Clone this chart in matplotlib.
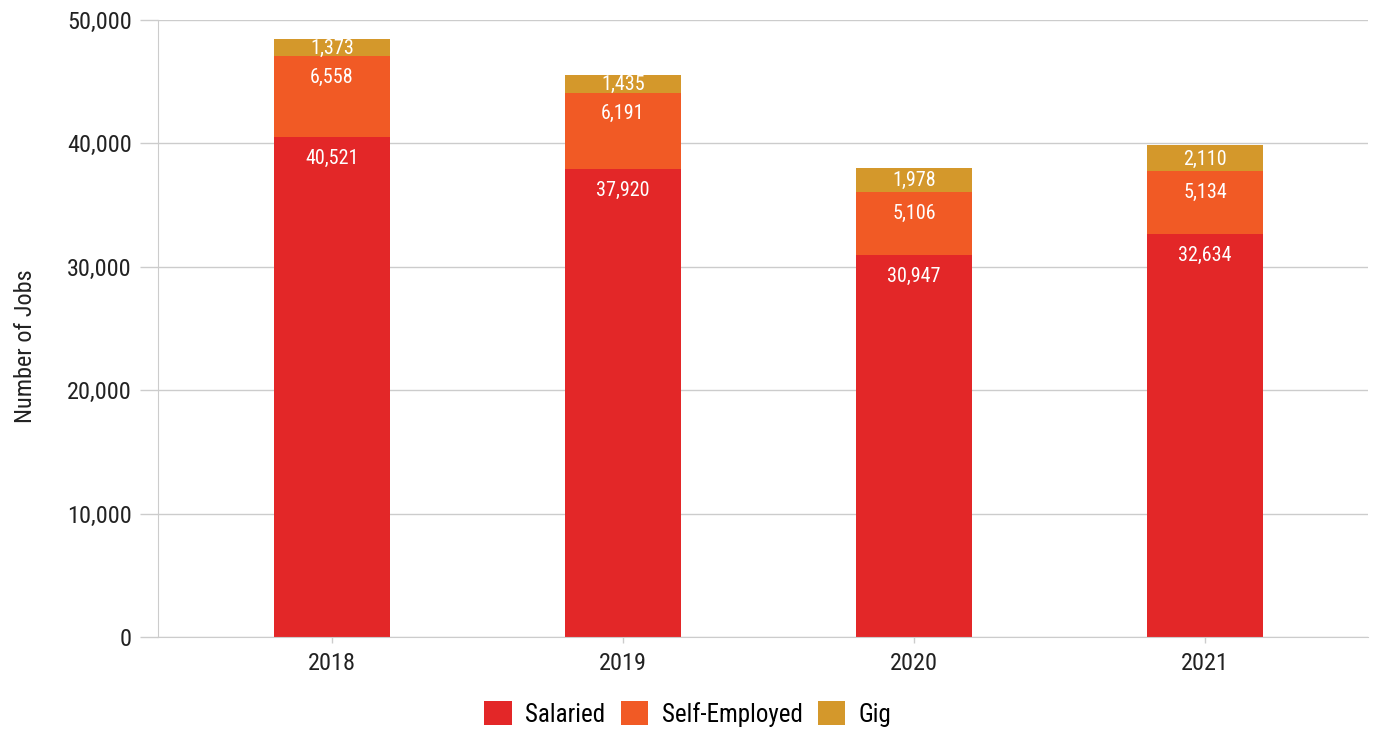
import matplotlib
matplotlib.use("Agg")
import matplotlib.pyplot as plt
import matplotlib.ticker as ticker
from matplotlib import font_manager

years = ["2018", "2019", "2020", "2021"]
salaried = [40521, 37920, 30947, 32634]
self_employed = [6558, 6191, 5106, 5134]
gig = [1373, 1435, 1978, 2110]

names = {f.name for f in font_manager.fontManager.ttflist}
fam = [f for f in ["Roboto Condensed", "Liberation Sans Narrow", "Roboto", "DejaVu Sans"] if f in names]
plt.rcParams["font.family"] = fam

GRID = "#cccccc"
colors = {"Salaried": "#e32728", "Self-Employed": "#f15a25", "Gig": "#d4982b"}

fig = plt.figure(figsize=(13.87, 7.32), dpi=100)
ax = fig.add_axes([158 / 1387, 1 - 637 / 732, (1368 - 158) / 1387, (637 - 20) / 732])

x = list(range(len(years)))
w = 0.40
ax.bar(x, salaried, w, color=colors["Salaried"], label="Salaried", zorder=3)
ax.bar(x, self_employed, w, bottom=salaried, color=colors["Self-Employed"], label="Self-Employed", zorder=3)
bottom3 = [a + b for a, b in zip(salaried, self_employed)]
ax.bar(x, gig, w, bottom=bottom3, color=colors["Gig"], label="Gig", zorder=3)

# value labels
for i in x:
    top3 = bottom3[i] + gig[i]
    ax.annotate(f"{salaried[i]:,}", (i, salaried[i]), xytext=(0, -21), textcoords="offset pixels",
                ha="center", va="center", color="white", fontsize=14.5, zorder=4)
    ax.annotate(f"{self_employed[i]:,}", (i, bottom3[i]), xytext=(0, -21), textcoords="offset pixels",
                ha="center", va="center", color="white", fontsize=14.5, zorder=4)
    ax.annotate(f"{gig[i]:,}", (i, (bottom3[i] + top3) / 2), xytext=(0, -1), textcoords="offset pixels",
                ha="center", va="center", color="white", fontsize=14.5, zorder=4)

ax.set_xlim(-0.598, 3.56)
ax.set_ylim(0, 50000)
ax.yaxis.set_major_locator(ticker.MultipleLocator(10000))
ax.yaxis.set_major_formatter(ticker.FuncFormatter(lambda v, _: f"{v:,.0f}"))
ax.set_xticks(x)
ax.set_xticklabels(years)
ax.grid(axis="y", color=GRID, linewidth=1, zorder=0)

for s in ["top", "right"]:
    ax.spines[s].set_visible(False)
ax.spines["left"].set_color(GRID)
ax.spines["bottom"].set_color(GRID)
ax.spines["bottom"].set_zorder(5)
ax.tick_params(axis="y", length=13, color=GRID, width=1, labelsize=17.5, labelcolor="#222222", pad=6)
ax.tick_params(axis="x", length=4, color=GRID, width=1, labelsize=17.5, labelcolor="#222222", pad=7)
ax.set_ylabel("Number of Jobs", fontsize=17.5, color="#222222")
ax.yaxis.set_label_coords(-0.100, 0.472)

ax.legend(loc="center", bbox_to_anchor=(0.438, -0.125), ncol=3, frameon=False,
          fontsize=18, handlelength=1.1, handleheight=1.1, handletextpad=0.55, columnspacing=0.6)

fig.savefig("out.png", dpi=100)
